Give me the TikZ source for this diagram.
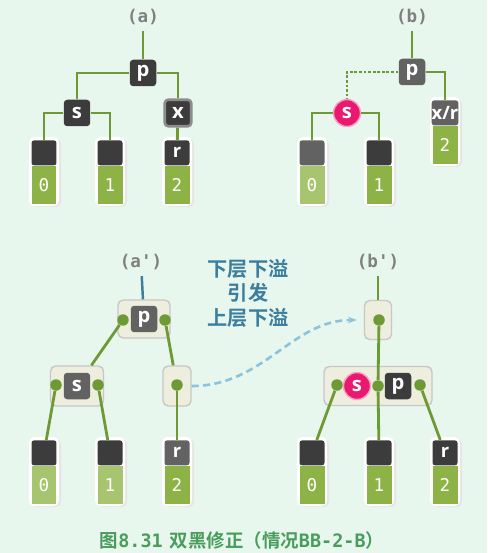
\documentclass[tikz,border=0pt]{standalone}
\usepackage{fontspec}
\setsansfont{Open Sans}
\newfontfamily\monofont{DejaVu Sans Mono}
\newfontfamily\cjk{Noto Sans CJK SC}[BoldFont={Noto Sans CJK SC Bold}]
\usetikzlibrary{arrows.meta}

\definecolor{bgmint}{HTML}{E8F7EE}
\definecolor{edgegreen}{HTML}{6E9A35}
\definecolor{leafgreen}{HTML}{8DB347}
\definecolor{leafpale}{HTML}{A7C46E}
\definecolor{keydark}{HTML}{3C3C3C}
\definecolor{keynoise}{HTML}{626262}
\definecolor{nodebeige}{HTML}{EEEEDF}
\definecolor{hotpink}{HTML}{E8196F}
\definecolor{noteblue}{HTML}{3B7E9E}
\definecolor{arrowblue}{HTML}{8CC4DC}
\definecolor{capgreen}{HTML}{4A9C5C}

\tikzset{
  key/.style={fill=keydark, rounded corners=2pt, minimum size=0.53cm, inner sep=0pt,
    text=white, font=\sffamily\bfseries\fontsize{11.5}{11.5}\selectfont},
  leaftop/.style={rounded corners=1.5pt, minimum width=0.5cm, minimum height=0.5cm,
    inner sep=0pt, text=white, font=\sffamily\bfseries\fontsize{10.5}{10.5}\selectfont},
  leafbot/.style={minimum width=0.5cm, minimum height=0.76cm, inner sep=0pt,
    text=white, font=\monofont\fontsize{10}{10}\selectfont},
  tag/.style={text=black!50, font=\monofont\bfseries\fontsize{10}{10}\selectfont},
  bnode/.style={fill=nodebeige, draw=black!22, line width=0.8pt, rounded corners=3pt, inner sep=0pt},
  dot/.style={circle, fill=edgegreen, minimum size=0.23cm, inner sep=0pt},
  redkey/.style={circle, fill=hotpink, draw=hotpink!40, line width=0.8pt, minimum size=0.54cm,
    inner sep=0pt, text=white, font=\sffamily\bfseries\fontsize{11.5}{11.5}\selectfont},
  edge/.style={draw=edgegreen, line width=1.6pt}
}

% leaf: name, x, top y, top text, number, top fill, bottom fill
\newcommand{\leafat}[7]{
  \fill[black!10, rounded corners=3pt] (#2-13,#3-1) rectangle (#2+17,#3+67);
  \fill[white, rounded corners=3pt] (#2-15,#3-3) rectangle (#2+15,#3+66);
  \node[leaftop, fill=#6, anchor=north] (#1) at (#2,#3) {#4};
  \node[leafbot, fill=#7, anchor=north] (#1g) at (#1.south) {#5};
}

\begin{document}
\begin{tikzpicture}[x=0.02cm, y=-0.02cm]
  \fill[bgmint] (0,0) rectangle (487,553);
  \useasboundingbox (0,0) rectangle (487,553);

  % (a)
  \node[tag] (la) at (143,17) {(a)};
  \node[key] (ap) at (143,73) {p};
  \node[key] (as) at (77,113) {s};
  \node[key, draw=black!45, line width=1.5pt] (ax) at (178,113) {x};
  \leafat{a0}{44}{140}{}{0}{keydark}{leafgreen}
  \leafat{a1}{110}{140}{}{1}{keydark}{leafgreen}
  \leafat{a2}{177}{140}{r}{2}{keydark}{leafgreen}
  \draw[edge] (la) -- (ap);
  \draw[edge] (ap) -| (as);
  \draw[edge] (ap) -| (ax);
  \draw[edge] (as) -| (a0);
  \draw[edge] (as) -| (a1);
  \draw[edge] (ax) -- (a2);

  % (b)
  \node[tag] (lb) at (412,17) {(b)};
  \node[key, fill=keynoise] (bp) at (412,72) {p};
  \node[redkey] (bs) at (347,113) {s};
  \leafat{b0}{312}{140}{}{0}{keynoise}{leafpale}
  \leafat{b1}{379}{140}{}{1}{keydark}{leafgreen}
  \leafat{b2}{445}{100}{x/r}{2}{keynoise}{leafgreen}
  \draw[edge] (lb) -- (bp);
  \draw[edge, densely dotted] (bp) -| (bs);
  \draw[edge] (bp) -| (b2);
  \draw[edge] (bs) -| (b0);
  \draw[edge] (bs) -| (b1);

  % (a')
  \node[tag] (lc) at (141,262) {(a')};
  \node[bnode, minimum width=1.04cm, minimum height=0.76cm] (cp) at (144,319) {};
  \node[key, fill=keynoise] (cpk) at (144,319) {p};
  \node[dot] (cpl) at (123,320) {};
  \node[dot] (cpr) at (165,320) {};
  \node[bnode, minimum width=1.06cm, minimum height=0.8cm] (cs) at (77,386) {};
  \node[key, fill=keynoise] (csk) at (77,386) {s};
  \node[dot] (csl) at (56,385) {};
  \node[dot] (csr) at (98,385) {};
  \node[bnode, minimum width=0.56cm, minimum height=0.8cm] (ce) at (177,386) {};
  \node[dot] (ced) at (177,385) {};
  \leafat{c0}{44}{440}{}{0}{keydark}{leafpale}
  \leafat{c1}{110}{440}{}{1}{keydark}{leafpale}
  \leafat{c2}{177}{440}{r}{2}{keynoise}{leafgreen}
  \draw[draw=noteblue, line width=1.4pt] (lc) -- (cp);
  \draw[edge] (cpl) -- (cs);
  \draw[edge] (cpr) -- (ce);
  \draw[edge] (csl) -- (c0);
  \draw[edge] (csr) -- (c1);
  \draw[edge] (ced) -- (c2);

  % (b')
  \node[tag] (ld) at (378,262) {(b')};
  \node[bnode, minimum width=0.54cm, minimum height=0.78cm] (dq) at (378,320) {};
  \node[dot] (dqd) at (379,320) {};
  \node[bnode, minimum width=2.16cm, minimum height=0.78cm] (dl) at (378,386) {};
  \node[dot] (dd1) at (337,385) {};
  \node[redkey] (ds) at (357,386) {s};
  \node[dot] (dd2) at (378,386) {};
  \node[key] (dpk) at (398,386) {p};
  \node[dot] (dd3) at (420,385) {};
  \leafat{d0}{312}{440}{}{0}{keydark}{leafgreen}
  \leafat{d1}{379}{440}{}{1}{keydark}{leafgreen}
  \leafat{d2}{445}{440}{r}{2}{keydark}{leafgreen}
  \draw[edge] (ld) -- (dq);
  \draw[edge] (dqd) -- (dd2);
  \draw[edge] (dd1) -- (d0);
  \draw[edge] (dd2) -- (d1);
  \draw[edge] (dd3) -- (d2);

  % note and arrow
  \node[text=noteblue, align=center, font=\cjk\bfseries\fontsize{11.5}{14}\selectfont]
    (note) at (248,293) {下层下溢\\引发\\上层下溢};
  \draw[arrowblue, line width=1.5pt, dash pattern=on 4pt off 2.5pt, -{Stealth[length=5pt]},
    shorten >=4pt] (ce.east) to[out=0, in=180] (dq.west);

  % caption
  \node[text=capgreen, font=\cjk\bfseries\fontsize{10.5}{12}\selectfont] (cap) at (242,540)
    {图{\monofont\bfseries 8.31}\hspace{4pt}双黑修正（情况{\monofont\bfseries BB-2-B}）};
\end{tikzpicture}
\end{document}
